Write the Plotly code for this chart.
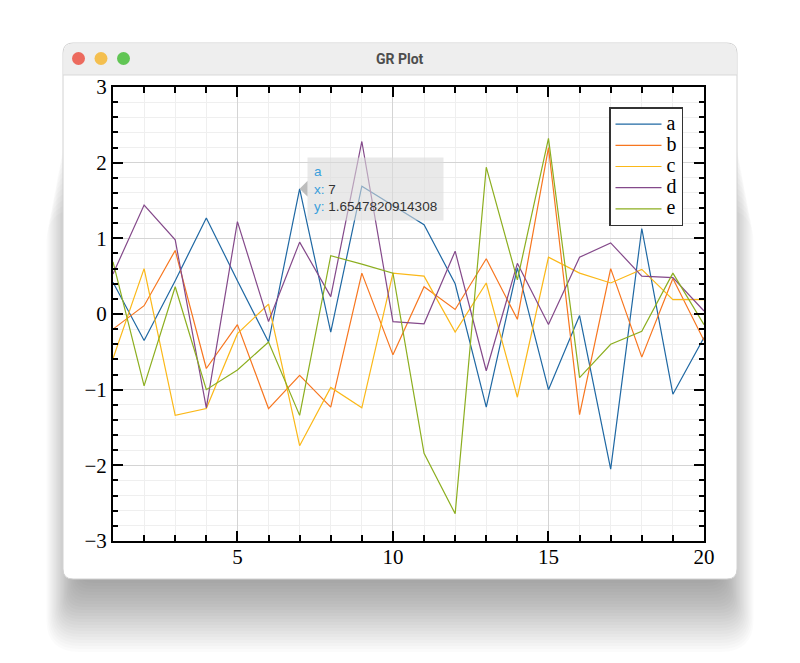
import plotly.graph_objects as go

# ---------------- data ----------------
x = list(range(1, 21))
series_names = ["a", "b", "c", "d", "e"]
a = [0.42, -0.35, 0.44, 1.27, 0.44, -0.37, 1.6547820914308, -0.24, 1.69, 1.44,
     1.18, 0.40, -1.23, 0.61, -1.00, -0.02, -2.05, 1.13, -1.06, -0.31]
b = [-0.20, 0.11, 0.84, -0.72, -0.14, -1.25, -0.81, -1.23, 0.54, -0.54,
     0.36, 0.06, 0.73, -0.07, 2.20, -1.33, 0.60, -0.57, 0.47, -0.35]
c = [-0.59, 0.60, -1.34, -1.25, -0.26, 0.13, -1.74, -0.97, -1.24, 0.54,
     0.50, -0.24, 0.41, -1.10, 0.75, 0.54, 0.41, 0.59, 0.19, 0.19]
d = [0.53, 1.44, 0.98, -1.24, 1.22, -0.10, 0.95, 0.23, 2.28, -0.10,
     -0.13, 0.83, -0.75, 0.67, -0.14, 0.75, 0.94, 0.50, 0.48, 0.04]
e = [0.69, -0.95, 0.36, -1.00, -0.74, -0.37, -1.34, 0.77, 0.66, 0.54,
     -1.84, -2.64, 1.94, 0.45, 2.32, -0.84, -0.40, -0.23, 0.54, -0.14]
series_values = [a, b, c, d, e]
colors = ["#1f68a3", "#f7761f", "#fbb818", "#84498a", "#8cae1f"]
x_ticks = [5, 10, 15, 20]
y_ticks = [-3, -2, -1, 0, 1, 2, 3]
hover_index = 6  # tooltip on series "a" at x = 7

W, H = 800, 663
L, R, T, B = 113, 96, 87, 122
PW, PH = W - L - R, H - T - B


def px(xp):
    return (xp - L) / PW


def py(yp):
    return (H - B - yp) / PH


def rrect(x0, y0, x1, y1, r, top_only=False):
    rb = 0 if top_only else r
    pts = [
        ("M", [(x0 + r, y0)]),
        ("L", [(x1 - r, y0)]),
        ("Q", [(x1, y0), (x1, y0 + r)]),
        ("L", [(x1, y1 - rb)]),
        ("Q", [(x1, y1), (x1 - rb, y1)]),
        ("L", [(x0 + rb, y1)]),
        ("Q", [(x0, y1), (x0, y1 - rb)]),
        ("L", [(x0, y0 + r)]),
        ("Q", [(x0, y0), (x0 + r, y0)]),
    ]
    s = ""
    for cmd, ps in pts:
        s += cmd + " ".join(f"{px(u):.5f},{py(v):.5f}" for u, v in ps) + " "
    return s + "Z"


fig = go.Figure()
for name, vals, col in zip(series_names, series_values, colors):
    fig.add_trace(go.Scatter(x=x, y=vals, name=f'<span style="font-size:20px">{name}</span>',
                             mode="lines", line=dict(color=col, width=1.2)))

shapes = []
# window shadow (soft, mostly below the window)
WX0, WY0, WX1, WY1 = 63, 43, 737, 579
for i in range(24):
    bb = 4 + i * 3
    s = (bb - 36) * 0.45
    top = WY0 + 20 + bb * 2
    shapes.append(dict(type="path", xref="paper", yref="paper", layer="below",
                       path=rrect(WX0 - s, top, WX1 + s, WY1 + bb, 16 + max(s, 0)),
                       fillcolor="rgba(0,0,0,0.015)", line=dict(width=0)))
# window body
shapes.append(dict(type="path", xref="paper", yref="paper", layer="below",
                   path=rrect(WX0, WY0, WX1, WY1, 10), fillcolor="white",
                   line=dict(color="#d2d2d2", width=1)))
# title bar
shapes.append(dict(type="path", xref="paper", yref="paper", layer="below",
                   path=rrect(WX0 + 0.5, WY0 + 0.5, WX1 - 0.5, 75, 10, top_only=True),
                   fillcolor="#eeeeee", line=dict(width=0)))
shapes.append(dict(type="line", xref="paper", yref="paper", layer="below",
                   x0=px(WX0), x1=px(WX1), y0=py(75), y1=py(75),
                   line=dict(color="#d9d9d9", width=1)))
for cx, col in [(78.5, "#ec6a5e"), (101, "#f4bf4f"), (123.5, "#61c554")]:
    shapes.append(dict(type="circle", xref="paper", yref="paper", layer="below",
                       x0=px(cx - 6.5), x1=px(cx + 6.5), y0=py(58.5 - 6.5), y1=py(58.5 + 6.5),
                       fillcolor=col, line=dict(width=0)))
# tooltip pointer
shapes.append(dict(type="path", xref="x", yref="y", xsizemode="pixel", ysizemode="pixel",
                   xanchor=x[hover_index], yanchor=a[hover_index],
                   path="M0,0 L8,8 L8,-8 Z", fillcolor="#bdbdbd", line=dict(width=0)))

lab = "#3a9fdc"
val = "#333333"
tip = (f'<span style="color:{lab}">{series_names[0]}</span><br>'
       f'<span style="color:{lab}">x:</span> <span style="color:{val}">{x[hover_index]}</span><br>'
       f'<span style="color:{lab}">y:</span> <span style="color:{val}">{a[hover_index]}</span>')

annotations = [
    dict(text="<b>GR Plot</b>", xref="paper", yref="paper", x=px(400), y=py(58.5),
         xanchor="center", yanchor="middle",
         showarrow=False, font=dict(family="Roboto", size=14, color="#4d4d4d")),
    dict(text=tip, xref="x", yref="y", x=x[hover_index], y=a[hover_index],
         xanchor="left", yanchor="middle", xshift=7, showarrow=False, align="left",
         bgcolor="rgba(218,218,218,0.6)", borderpad=6,
         font=dict(family="Liberation Sans", size=13.5, color=val)),
]

axis_common = dict(
    showline=True, linecolor="black", linewidth=2, mirror="ticks",
    ticks="inside", ticklen=10, tickwidth=1.5, tickcolor="black",
    showgrid=True, gridcolor="#d4d4d4", gridwidth=1, zeroline=False,
    tickfont=dict(family="Liberation Serif", size=21, color="black"),
)

fig.update_xaxes(range=[1, 20], tickvals=x_ticks, ticklabelstandoff=-4, **axis_common,
                 minor=dict(dtick=1, tick0=0, ticks="inside", ticklen=6, tickwidth=1.5,
                            tickcolor="black", showgrid=True, gridcolor="#efefef", gridwidth=1))
fig.update_yaxes(range=[-3, 3], tickvals=y_ticks, **axis_common,
                 minor=dict(dtick=0.2, tick0=0, ticks="inside", ticklen=5, tickwidth=1.5,
                            tickcolor="black", showgrid=True, gridcolor="#efefef", gridwidth=1))

fig.update_layout(
    width=W, height=H, margin=dict(l=L, r=R, t=T, b=B),
    paper_bgcolor="white", plot_bgcolor="white",
    shapes=shapes, annotations=annotations, hovermode=False,
    showlegend=True,
    legend=dict(x=px(683), y=py(107), xanchor="right", yanchor="top",
                bgcolor="white", bordercolor="#333333", borderwidth=1.5, itemwidth=46,
                font=dict(family="Liberation Serif", size=14, color="black")),
)

fig.write_html("out.html", config={"displayModeBar": False},
               post_script="document.body.style.margin='0';")
